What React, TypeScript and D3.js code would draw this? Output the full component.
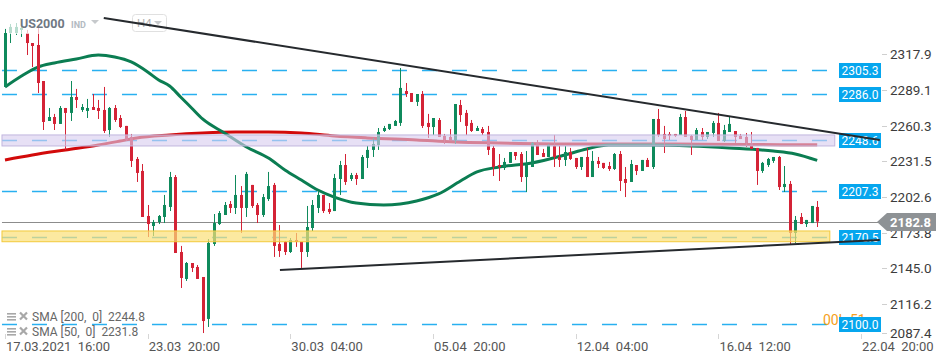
import React, { useEffect, useRef } from "react";
import * as d3 from "d3";

// H4 candles, US2000
const opens = [
  2291.6, 2335.2, 2335.2, 2337.7, 2335.2, 2327.1, 2325.5, 2296.4, 2264.1, 2267.3,
  2261.7, 2274.6, 2270.6, 2283.5, 2273.0, 2272.2, 2275.4, 2274.6, 2273.0, 2256.8,
  2274.6, 2266.5, 2260.1, 2251.2, 2233.4, 2223.7, 2187.3, 2179.2, 2182.4, 2186.5,
  2194.6, 2218.8, 2158.2, 2136.4, 2149.3, 2146.1, 2138.0, 2104.1, 2164.7, 2180.8,
  2188.1, 2197.0, 2193.8, 2204.3, 2193.8, 2212.4, 2196.2, 2188.1, 2201.0, 2212.4,
  2164.7, 2166.3, 2158.2, 2167.9, 2166.3, 2158.2, 2177.6, 2193.8, 2204.3, 2193.0,
  2191.3, 2217.2, 2228.5, 2217.2, 2220.4, 2217.2, 2234.2, 2240.7, 2244.7, 2256.0,
  2257.6, 2260.1, 2262.5, 2288.3, 2286.7, 2279.5, 2285.9, 2262.5, 2259.2, 2264.9,
  2252.0, 2251.2, 2248.7, 2277.0, 2270.6, 2262.5, 2256.0, 2257.6, 2255.2, 2242.3,
  2228.5, 2226.1, 2230.2, 2239.0, 2237.4, 2218.8, 2226.9, 2246.3, 2238.2, 2235.0,
  2243.9, 2235.0, 2232.6, 2239.0, 2234.2, 2226.9, 2235.0, 2218.8, 2231.8, 2230.2,
  2227.7, 2225.3, 2237.4, 2217.2, 2214.8, 2228.5, 2223.7, 2232.6, 2226.9, 2265.7,
  2253.6, 2253.6, 2253.6, 2252.8, 2267.3, 2252.0, 2248.7, 2255.2, 2251.2, 2254.4,
  2262.5, 2247.9, 2255.2, 2256.0, 2252.0, 2251.2, 2246.3, 2242.3, 2223.7, 2228.5,
  2231.8, 2235.0, 2210.7, 2213.2, 2173.6, 2186.5, 2180.8, 2181.6, 2194.6
];
const highs = [
  2338.5, 2342.5, 2343.3, 2342.5, 2337.7, 2327.1, 2340.1, 2296.4, 2274.6, 2269.8,
  2276.2, 2274.6, 2296.4, 2290.0, 2277.8, 2281.9, 2285.9, 2281.1, 2291.6, 2275.4,
  2277.0, 2268.9, 2260.1, 2253.6, 2235.0, 2229.3, 2196.2, 2184.1, 2188.1, 2204.3,
  2222.9, 2220.4, 2163.1, 2150.1, 2149.3, 2147.7, 2138.0, 2168.7, 2188.9, 2191.3,
  2198.6, 2199.4, 2220.4, 2211.5, 2222.9, 2212.4, 2197.8, 2205.1, 2222.9, 2214.0,
  2180.0, 2167.1, 2169.5, 2173.6, 2166.3, 2195.4, 2200.2, 2206.7, 2204.3, 2197.8,
  2221.3, 2231.8, 2237.4, 2222.1, 2222.1, 2236.6, 2243.9, 2250.4, 2258.4, 2260.1,
  2261.7, 2264.9, 2306.9, 2294.8, 2286.7, 2285.9, 2288.3, 2269.8, 2266.5, 2266.5,
  2253.6, 2257.6, 2277.8, 2281.1, 2273.0, 2264.9, 2260.1, 2259.2, 2260.1, 2243.9,
  2237.4, 2234.2, 2239.0, 2239.0, 2239.0, 2239.8, 2247.1, 2248.7, 2241.5, 2245.5,
  2252.8, 2243.9, 2243.9, 2242.3, 2234.2, 2235.0, 2242.3, 2239.8, 2235.0, 2230.2,
  2231.0, 2238.2, 2239.8, 2226.9, 2232.6, 2228.5, 2232.6, 2234.2, 2265.7, 2273.8,
  2260.1, 2255.2, 2253.6, 2269.8, 2272.2, 2252.8, 2258.4, 2258.4, 2255.2, 2264.1,
  2270.6, 2260.9, 2267.3, 2256.0, 2253.6, 2254.4, 2255.2, 2242.3, 2231.0, 2234.2,
  2235.0, 2235.8, 2227.7, 2215.6, 2187.3, 2189.7, 2184.1, 2195.4, 2199.4
];
const lows = [
  2291.6, 2327.1, 2333.6, 2332.0, 2317.4, 2307.7, 2286.7, 2256.8, 2264.1, 2256.8,
  2261.7, 2240.7, 2264.1, 2274.6, 2271.4, 2266.5, 2273.0, 2265.7, 2254.4, 2251.2,
  2263.3, 2258.4, 2247.9, 2226.9, 2214.8, 2186.5, 2170.3, 2171.1, 2180.8, 2181.6,
  2191.3, 2157.4, 2129.1, 2134.8, 2142.0, 2136.4, 2092.7, 2097.6, 2163.1, 2180.0,
  2188.1, 2189.7, 2188.9, 2173.6, 2186.5, 2193.8, 2181.6, 2186.5, 2199.4, 2154.2,
  2154.2, 2155.8, 2157.4, 2162.3, 2145.3, 2154.2, 2175.2, 2189.7, 2189.7, 2188.9,
  2191.3, 2204.3, 2212.4, 2215.6, 2212.4, 2217.2, 2226.1, 2235.0, 2240.7, 2255.2,
  2256.8, 2260.1, 2260.1, 2283.5, 2279.5, 2276.2, 2258.4, 2250.4, 2252.8, 2251.2,
  2245.5, 2247.9, 2245.5, 2263.3, 2252.8, 2255.2, 2256.0, 2252.8, 2236.6, 2219.6,
  2215.6, 2224.5, 2230.2, 2232.6, 2214.8, 2206.7, 2226.9, 2236.6, 2235.0, 2235.0,
  2226.9, 2226.9, 2227.7, 2232.6, 2225.3, 2224.5, 2218.8, 2218.8, 2226.1, 2225.3,
  2223.7, 2224.5, 2207.5, 2202.6, 2214.8, 2220.4, 2223.7, 2226.9, 2225.3, 2251.2,
  2238.2, 2248.7, 2251.2, 2252.8, 2251.2, 2236.6, 2248.7, 2248.7, 2249.5, 2251.2,
  2247.9, 2247.1, 2255.2, 2246.3, 2249.5, 2243.1, 2241.5, 2212.4, 2222.1, 2226.9,
  2230.2, 2208.3, 2206.7, 2164.7, 2165.5, 2180.8, 2178.4, 2181.6, 2178.4
];
const closes = [
  2335.2, 2340.1, 2340.1, 2339.3, 2327.1, 2324.7, 2294.8, 2263.3, 2267.3, 2261.7,
  2274.6, 2270.6, 2283.5, 2281.1, 2275.4, 2274.6, 2273.0, 2272.2, 2256.0, 2274.6,
  2264.9, 2259.2, 2248.7, 2231.8, 2222.1, 2186.5, 2180.8, 2182.4, 2187.3, 2196.2,
  2218.8, 2157.4, 2137.2, 2149.3, 2145.3, 2136.4, 2102.4, 2165.5, 2181.6, 2189.7,
  2196.2, 2193.8, 2204.3, 2193.8, 2221.3, 2195.4, 2188.1, 2202.6, 2211.5, 2163.1,
  2159.0, 2158.2, 2167.9, 2166.3, 2158.2, 2178.4, 2196.2, 2204.3, 2191.3, 2190.5,
  2218.0, 2228.5, 2214.8, 2220.4, 2217.2, 2235.0, 2240.7, 2245.5, 2255.2, 2258.4,
  2261.7, 2264.1, 2290.8, 2285.9, 2279.5, 2285.9, 2260.1, 2259.2, 2266.5, 2251.2,
  2248.7, 2247.9, 2277.8, 2268.9, 2260.1, 2256.0, 2258.4, 2254.4, 2240.7, 2226.9,
  2226.9, 2231.0, 2239.0, 2235.8, 2218.8, 2228.5, 2246.3, 2236.6, 2235.0, 2244.7,
  2235.0, 2232.6, 2239.0, 2233.4, 2226.9, 2235.0, 2218.8, 2231.8, 2229.3, 2226.1,
  2225.3, 2237.4, 2215.6, 2214.0, 2229.3, 2223.7, 2232.6, 2226.9, 2265.7, 2252.8,
  2249.5, 2252.0, 2252.0, 2267.3, 2251.2, 2248.7, 2256.8, 2251.2, 2255.2, 2262.5,
  2247.9, 2256.8, 2261.7, 2251.2, 2249.5, 2246.3, 2241.5, 2223.7, 2230.2, 2233.4,
  2235.0, 2210.7, 2213.2, 2173.6, 2184.1, 2180.8, 2184.1, 2195.4, 2182.8
];

const xTickBars = [0, 26, 52, 78, 104, 130, 156];
const xTickLabels = [
  "17.03.2021  16:00", "23.03  20:00", "30.03  04:00", "05.04  20:00",
  "12.04  04:00", "16.04  12:00", "22.04  20:00"
];
const yTickValues = [2317.9, 2289.1, 2260.3, 2231.5, 2202.6, 2173.8, 2145.0, 2116.2, 2087.4];
const levelValues = [2305.3, 2286.0, 2248.6, 2207.3, 2170.5, 2100.0];

// moving averages, sampled from the drawn curves
const sma200Bars = [0, 5, 11, 17, 21, 24, 30, 36, 42, 48, 54, 60, 66, 75, 82, 90, 105, 120, 135, 148];
const sma200Values = [2232.6, 2236.6, 2240.7, 2244.7, 2247.9, 2250.4, 2252.8, 2254.4, 2255.2, 2255.2,
  2254.4, 2252.0, 2250.4, 2248.7, 2247.1, 2246.3, 2245.5, 2245.5, 2245.1, 2244.8];
const sma50Bars = [0, 3, 6, 9, 13, 17, 20, 23, 26, 28, 30, 32, 34, 36, 40, 44, 48, 51, 54, 57,
  60, 64, 69, 75, 79, 83, 86, 90, 96, 102, 106, 110, 118, 125, 132, 140, 144, 148];
const sma50Values = [2291.6, 2300.5, 2307.7, 2311.0, 2314.2, 2317.4, 2315.8, 2311.8, 2303.7, 2297.2,
  2292.4, 2283.5, 2274.6, 2265.7, 2254.4, 2243.1, 2234.2, 2224.5, 2216.4, 2208.3,
  2202.6, 2197.8, 2196.2, 2199.4, 2205.1, 2215.6, 2222.9, 2226.9, 2230.2, 2236.6,
  2241.5, 2244.7, 2244.7, 2243.9, 2242.3, 2239.8, 2237.4, 2232.2];

const purpleZone = [2243.9, 2252.8];
const yellowZone = [2166.5, 2175.2];
const downTrendBars = [18, 159.4];
const downTrendValues = [2347.4, 2248.7];
const upTrendBars = [50.1, 159.4];
const upTrendValues = [2143.7, 2167.9];
const lastPrice = 2182.8;

const GREEN = "#0f8a5c";
const RED = "#d42336";
const FONT = "Roboto, 'Open Sans', sans-serif";

export default function App() {
  const ref = useRef<SVGSVGElement>(null);

  useEffect(() => {
    const W = 950, H = 364;
    const svg = d3.select(ref.current).attr("width", W).attr("height", H);
    svg.selectAll("*").remove();

    const x = d3.scaleLinear().domain([0, 156]).range([5, 861.1]);
    const y = d3.scaleLinear().domain([2305.3, 2100]).range([70, 324]);
    const leftBar = -0.55;
    const zoneEnd = 151.2;
    const lineEnd = 150.3;
    const axisX = 839;

    // dashed levels
    svg.append("g").selectAll("line").data(levelValues).join("line")
      .attr("x1", x(leftBar)).attr("x2", x(lineEnd))
      .attr("y1", d => Math.round(y(d)) + 0.5).attr("y2", d => Math.round(y(d)) + 0.5)
      .attr("stroke", "#29b0f0").attr("stroke-width", 1.3)
      .attr("stroke-dasharray", "15,15");

    // last price line
    svg.append("line")
      .attr("x1", x(leftBar)).attr("x2", 878)
      .attr("y1", Math.round(y(lastPrice)) + 0.5).attr("y2", Math.round(y(lastPrice)) + 0.5)
      .attr("stroke", "#8c8c8c").attr("stroke-width", 1);

    // moving averages
    const line = d3.line<[number, number]>()
      .x(d => x(d[0])).y(d => y(d[1])).curve(d3.curveMonotoneX);
    svg.append("path")
      .datum(sma200Bars.map((b, i) => [b, sma200Values[i]] as [number, number]))
      .attr("d", line).attr("fill", "none").attr("stroke", "#d20a0a").attr("stroke-width", 3);
    svg.append("path")
      .datum(sma50Bars.map((b, i) => [b, sma50Values[i]] as [number, number]))
      .attr("d", line).attr("fill", "none").attr("stroke", "#0b7d52").attr("stroke-width", 3);

    // candles
    const candles = opens.map((o, i) => ({ i, o, h: highs[i], l: lows[i], c: closes[i] }));
    const g = svg.append("g").selectAll("g").data(candles).join("g");
    g.append("line")
      .attr("x1", d => Math.round(x(d.i)) + 0.5).attr("x2", d => Math.round(x(d.i)) + 0.5)
      .attr("y1", d => y(d.h)).attr("y2", d => y(d.l))
      .attr("stroke", d => (d.c >= d.o ? GREEN : RED)).attr("stroke-width", 1);
    g.append("rect")
      .attr("x", d => Math.round(x(d.i)) - 1)
      .attr("width", 3)
      .attr("y", d => y(Math.max(d.o, d.c)))
      .attr("height", d => Math.max(1, Math.abs(y(d.o) - y(d.c))))
      .attr("fill", d => (d.c >= d.o ? GREEN : RED));

    // zones
    svg.append("rect")
      .attr("x", x(leftBar)).attr("width", x(zoneEnd) - x(leftBar))
      .attr("y", y(purpleZone[1])).attr("height", y(purpleZone[0]) - y(purpleZone[1]))
      .attr("fill", "#d8cdef").attr("fill-opacity", 0.62)
      .attr("stroke", "#c2b6de").attr("stroke-width", 1);
    svg.append("rect")
      .attr("x", x(leftBar)).attr("width", x(zoneEnd - 0.9) - x(leftBar))
      .attr("y", y(yellowZone[1])).attr("height", y(yellowZone[0]) - y(yellowZone[1]))
      .attr("fill", "#fbdf78").attr("fill-opacity", 0.7)
      .attr("stroke", "#f2c93c").attr("stroke-width", 1);

    // title
    svg.append("rect").attr("x", 8).attr("y", 12).attr("width", 92).attr("height", 22)
      .attr("fill", "#fff").attr("opacity", 0.7);
    svg.append("text").attr("x", 20).attr("y", 28).text("US2000")
      .style("font", `bold 12.5px ${FONT}`).attr("fill", "#6f7883");
    svg.append("text").attr("x", 71).attr("y", 28).text("IND")
      .style("font", `bold 9px ${FONT}`).attr("fill", "#b3bac2");
    svg.append("path").attr("d", "M91,20 L99,20 L95,24 Z").attr("fill", "#c6c9cc");
    svg.append("rect").attr("x", 132.5).attr("y", 14.5).attr("width", 34).attr("height", 17).attr("rx", 3)
      .attr("fill", "#fff").attr("fill-opacity", 0.6).attr("stroke", "#e0e0e0");
    svg.append("text").attr("x", 137).attr("y", 27).text("H4")
      .style("font", `11.5px ${FONT}`).attr("fill", "#b0b0b0");
    svg.append("path").attr("d", "M154,21 L162,21 L158,25 Z").attr("fill", "#c6c9cc");

    // legend: menu and close icons drawn as shapes, then the text
    const legend = [
      { label: "SMA [200,  0]  ", value: sma200Values[sma200Values.length - 1] },
      { label: "SMA [50,  0]  ", value: 2231.8 }
    ];
    const lg = svg.append("g").selectAll("g").data(legend).join("g")
      .attr("transform", (d, i) => `translate(0, ${321 + i * 15})`);
    [-8, -5, -2].forEach(dy => {
      lg.append("rect").attr("x", 7).attr("y", dy).attr("width", 9).attr("height", 1.6)
        .attr("fill", "#a8a8a8");
    });
    lg.append("path").attr("d", "M20,-8.5 L27,-1.5 M27,-8.5 L20,-1.5")
      .attr("stroke", "#a8a8a8").attr("stroke-width", 2.2);
    lg.append("text").attr("x", 32).attr("y", 0)
      .text(d => d.label + d.value.toFixed(1))
      .style("font", `12px ${FONT}`).style("white-space", "pre").attr("fill", "#666");

    // x axis
    const xa = svg.append("g").selectAll("g").data(xTickBars).join("g");
    xa.append("line")
      .attr("x1", d => Math.round(x(d)) + 0.5).attr("x2", d => Math.round(x(d)) + 0.5)
      .attr("y1", 334).attr("y2", 339).attr("stroke", "#d6d6d6");
    xa.append("text")
      .attr("x", d => x(d) + 1).attr("y", 351)
      .text((d, i) => xTickLabels[i])
      .style("font", `13px ${FONT}`).style("white-space", "pre").attr("fill", "#555");

    // y axis
    const ya = svg.append("g").selectAll("g").data(yTickValues).join("g")
      .attr("transform", d => `translate(0, ${Math.min(Math.round(y(d)), 333)})`);
    ya.append("line").attr("x1", 882).attr("x2", 887).attr("y1", 0.5).attr("y2", 0.5)
      .attr("stroke", "#cfcfcf");
    ya.append("text").attr("x", 890).attr("y", 0).attr("dy", "0.36em")
      .text(d => d.toFixed(1))
      .style("font", `13.5px ${FONT}`).attr("fill", "#3c3c3c");

    // countdown, mostly hidden by the level label
    svg.append("text").attr("x", 823).attr("y", 325).text("00h 51m")
      .style("font", `14px ${FONT}`).attr("fill", "#f5a020");

    // level labels
    const lb = svg.append("g").selectAll("g").data(levelValues).join("g")
      .attr("transform", d => `translate(${axisX}, ${Math.round(y(d))})`);
    lb.append("rect").attr("x", 0).attr("y", -7).attr("width", 42).attr("height", 15)
      .attr("fill", "#06a6ee");
    lb.append("text").attr("x", 21).attr("y", 0.5).attr("dy", "0.36em")
      .attr("text-anchor", "middle").text(d => d.toFixed(1))
      .style("font", `12px ${FONT}`).attr("fill", "#fff");

    // last price tag
    const py = Math.round(y(lastPrice));
    svg.append("path")
      .attr("d", `M877,${py} L887,${py - 9} L936,${py - 9} L936,${py + 9} L887,${py + 9} Z`)
      .attr("fill", "#8e9295");
    svg.append("text").attr("x", 890).attr("y", py).attr("dy", "0.36em")
      .text(lastPrice.toFixed(1))
      .style("font", `bold 13px ${FONT}`).attr("fill", "#fff");

    // trend lines
    svg.append("line")
      .attr("x1", x(downTrendBars[0])).attr("y1", y(downTrendValues[0]))
      .attr("x2", x(downTrendBars[1])).attr("y2", y(downTrendValues[1]))
      .attr("stroke", "#262a2e").attr("stroke-width", 2);
    svg.append("line")
      .attr("x1", x(upTrendBars[0])).attr("y1", y(upTrendValues[0]))
      .attr("x2", x(upTrendBars[1])).attr("y2", y(upTrendValues[1]))
      .attr("stroke", "#262a2e").attr("stroke-width", 2);
  }, []);

  return (
    <svg ref={ref} style={{ position: "absolute", left: 0, top: 0, background: "#fff" }} />
  );
}
